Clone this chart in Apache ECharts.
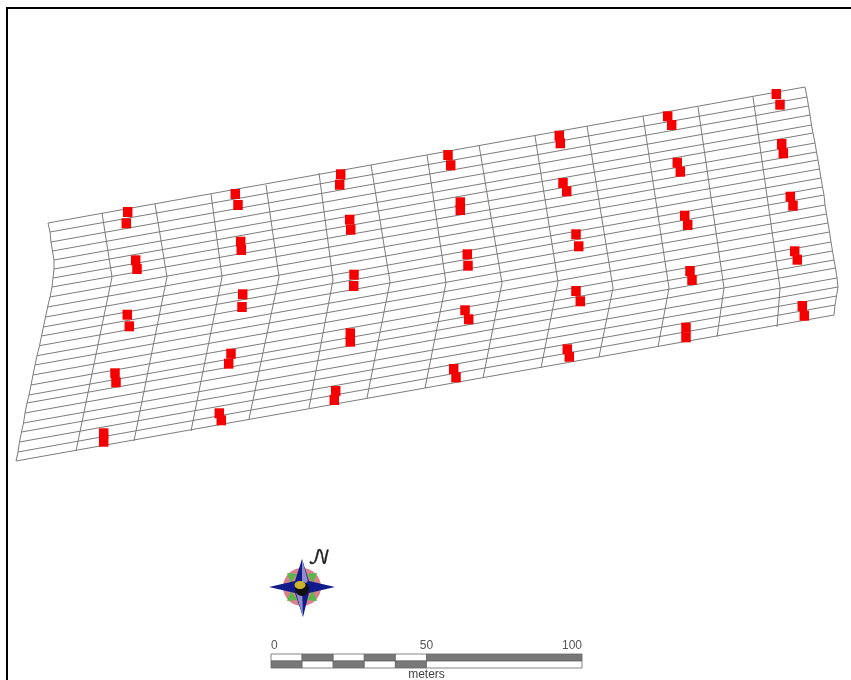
<!DOCTYPE html>
<html>
<head>
<meta charset="utf-8">
<style>html,body{margin:0;padding:0;background:#fff}#c{width:851px;height:680px;filter:blur(0.6px)}</style>
<script src="https://cdn.jsdelivr.net/npm/echarts@6/dist/echarts.min.js"></script>
</head>
<body>
<div id="c"></div>
<script>
// Map coordinates read from the plan
const rowLeftX  = [48,50,51,52.5,54,54,53,52,50,47.6,45.5,43.4,41.5,39.5,37,35,33,31,29,27,25,23.5,21.5,19.5,18,16];
const rowLeftY  = [223,232,242,251,260,269,278,287,297,307,317,327,336,345.7,355.7,365,375,385,395,403,413,423,432,442,452,461];
const rowRightX = [805,807,808.5,810,811.5,813,815,816.5,818,819.5,821,822.5,824,825,826.5,828,829.5,831,832.5,834,835.5,837,838,836.5,835,834];
const rowRightY = [87,97,106,115,125,133,143,152,160,169,178,187,195,205,214,223,232,242,251,260,268,278,287,296,305,315];
// Interior cross-lines: top, kink, bottom
const crossLines = [
  [[102,213],[112,277],[76,451]],
  [[155,204],[167,277],[134,441]],
  [[211,194],[222,277],[191,431]],
  [[266,185],[279,277],[249,419]],
  [[319,173],[333,280],[309,408]],
  [[371,165],[390,282],[367,398]],
  [[427,155],[446,283],[425,388]],
  [[479,145],[502,283],[483,378]],
  [[535,136],[558,282],[541,368]],
  [[587,126],[613,288],[599,357]],
  [[643,116],[669,288],[658,347]],
  [[698,107],[724,288],[717,337]],
  [[753,97],[780,288],[777,327]]
];
// Red sample plots
const plots = [
  [127.7,212],[126.3,223.3],[135.7,260.3],[137,269],[127.3,314.7],[129.3,326.3],[115,373.3],[116,382.3],[103.7,433.3],[103.7,441.7],
  [235.3,194],[238,205],[240.7,241.7],[241.3,250],[242.7,294.3],[242,307],[231,353.7],[228.7,363.7],[219.3,413.3],[221.3,420.3],
  [340.7,174.3],[339.7,184.7],[349.7,219.7],[350.7,229.7],[354,274.7],[353.7,286],[350.3,333.3],[350.3,341.7],[335.7,391],[334.3,400],
  [448,155],[450.7,165.3],[460.3,202.3],[460.3,210],[467.3,254.3],[468,265.7],[465,310.3],[468.7,319.3],[453.7,369],[456,377.3],
  [559.3,135.7],[560.3,143.3],[563,183],[566.7,191.3],[576,234.3],[578.7,246.3],[576,291],[580.3,301.3],[567.3,349.3],[569.3,356.7],
  [667.7,116.3],[671.7,125],[677.3,162.7],[680.3,171.7],[684.7,215.7],[687.7,225],[690,271],[692,280],[686,327.7],[686,337.3],
  [776.3,94],[780,104.7],[781.7,144],[783.3,153.3],[790.3,196.7],[793,205.7],[794.7,251.3],[797.3,259.7],[802.3,306],[804.3,315.7]
];
// Scale bar
const scaleBreaks = [0,10,20,30,40,50,100];
const scaleTicks = [0,50,100];
const scaleUnit = 'meters';

const lineStyle = {color:'#7c7c7c',width:1};
const gridSeries = [];
rowLeftX.forEach((x,i)=>gridSeries.push({type:'line',silent:true,symbol:'none',lineStyle,data:[[x,rowLeftY[i]],[rowRightX[i],rowRightY[i]]]}));
crossLines.forEach(l=>gridSeries.push({type:'line',silent:true,symbol:'none',lineStyle,data:l}));
gridSeries.push({type:'line',silent:true,symbol:'none',lineStyle,data:rowLeftX.map((x,i)=>[x,rowLeftY[i]])});
gridSeries.push({type:'line',silent:true,symbol:'none',lineStyle,data:rowRightX.map((x,i)=>[x,rowRightY[i]])});

const scaleCells = [];
for(let i=0;i<scaleBreaks.length-1;i++){
  scaleCells.push([scaleBreaks[i],scaleBreaks[i+1],0,i%2?'#787878':'#ffffff']);
  scaleCells.push([scaleBreaks[i],scaleBreaks[i+1],1,i%2?'#ffffff':'#787878']);
}

const chart = echarts.init(document.getElementById('c'),null,{renderer:'canvas'});
chart.setOption({
  animation:false,
  backgroundColor:'#fff',
  grid:[
    {left:0,right:0,top:0,bottom:0,outerBoundsMode:'none'},
    {left:271,top:654,width:311,height:14,outerBoundsMode:'none'}
  ],
  xAxis:[
    {type:'value',gridIndex:0,min:0,max:851,show:false},
    {type:'value',gridIndex:1,position:'top',min:0,max:100,interval:50,splitLine:{show:false},axisLine:{show:false},axisTick:{show:false},
     axisLabel:{margin:2,fontSize:12,color:'#555',fontFamily:'Liberation Sans',alignMinLabel:'left',alignMaxLabel:'right',formatter:v=>scaleTicks.includes(v)?String(v):''}},
    {type:'value',gridIndex:1,position:'bottom',min:0,max:100,splitLine:{show:false},axisLine:{show:false},axisTick:{show:false},axisLabel:{show:false},
     name:scaleUnit,nameLocation:'middle',nameGap:1,nameTextStyle:{fontSize:12,color:'#444',fontFamily:'Liberation Sans'}}
  ],
  yAxis:[
    {type:'value',gridIndex:0,min:0,max:680,inverse:true,show:false},
    {type:'value',gridIndex:1,inverse:true,min:0,max:2,show:false}
  ],
  series:[
    ...gridSeries,
    {type:'scatter',silent:true,symbol:'rect',symbolSize:[9.5,10],itemStyle:{color:'#f50000',opacity:1},data:plots,z:5},
    {type:'custom',xAxisIndex:1,yAxisIndex:1,silent:true,clip:false,data:scaleCells,
     renderItem:(p,api)=>{
       const a=api.coord([api.value(0),api.value(2)]), b=api.coord([api.value(1),api.value(2)+1]);
       return {type:'rect',shape:{x:a[0],y:a[1],width:b[0]-a[0],height:b[1]-a[1]},
         style:{fill:scaleCells[p.dataIndex][3],stroke:'#666',lineWidth:0.8}};
     }}
  ],
  graphic:[
    {type:'polyline',silent:true,shape:{points:[[7,680],[7,8],[851,8]]},style:{fill:null,stroke:'#000',lineWidth:2},z:100},
    {type:'group',x:302,y:587,silent:true,z:90,children:[
      {type:'circle',shape:{cx:0,cy:0,r:19},style:{fill:'#d9808a'},z:1},
      {type:'polygon',shape:{points:[[-15,-14],[-5,-13],[-11,-4]]},style:{fill:'#55b848'},z:2},
      {type:'polygon',shape:{points:[[15,-14],[5,-13],[11,-4]]},style:{fill:'#55b848'},z:2},
      {type:'polygon',shape:{points:[[-15,14],[-5,13],[-11,4]]},style:{fill:'#55b848'},z:2},
      {type:'polygon',shape:{points:[[15,14],[5,13],[11,4]]},style:{fill:'#55b848'},z:2},
      {type:'polygon',shape:{points:[[0,-28],[7,-6],[33,0],[7,6],[1,30],[-7,6],[-33,0],[-7,-6]]},style:{fill:'#101a8c'},z:3},
      {type:'polygon',shape:{points:[[0,-28],[6,-6],[0,0]]},style:{fill:'#8d90c8'},z:4},
      {type:'polygon',shape:{points:[[1,30],[-6,6],[0,0]]},style:{fill:'#8d90c8'},z:4},
      {type:'circle',shape:{cx:0,cy:2,r:7},style:{fill:'#111'},z:5},
      {type:'ellipse',shape:{cx:-2,cy:-2,rx:5.5,ry:4},style:{fill:'#c9b52c'},z:6},
      {type:'text',x:6,y:-39,style:{text:'\u{1D4A9}',fontFamily:'DejaVu Math TeX Gyre, DejaVu Serif, Liberation Serif',fontSize:20,fill:'#222',stroke:'#222',lineWidth:0.3},z:7}
    ]}
  ]
});
</script>
</body>
</html>
